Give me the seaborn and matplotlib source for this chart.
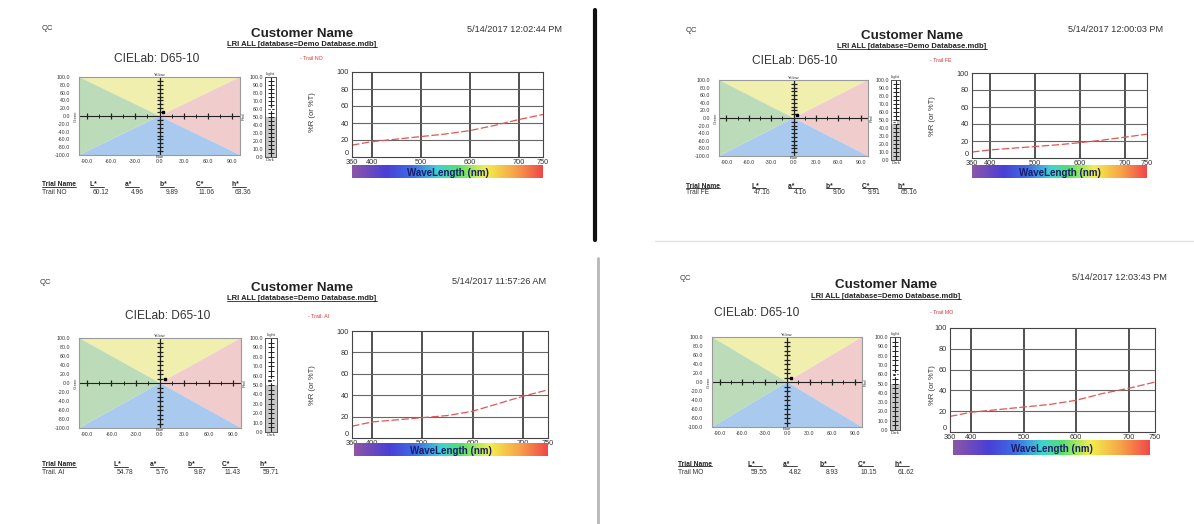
import matplotlib
matplotlib.use("Agg")
import matplotlib.pyplot as plt
import seaborn as sns
from matplotlib.colors import LinearSegmentedColormap
from matplotlib.patches import Polygon, Rectangle
from matplotlib.lines import Line2D
import numpy as np

# ---------------------------------------------------------------- data
trial_names = ["Trail NO", "Trail FE", "Trail. AI", "Trail MO"]
timestamps = ["5/14/2017 12:02:44 PM", "5/14/2017 12:00:03 PM",
              "5/14/2017 11:57:26 AM", "5/14/2017 12:03:43 PM"]
L_vals = [60.12, 47.16, 54.78, 59.55]
a_vals = [4.96, 4.16, 5.76, 4.82]
b_vals = [9.89, 9.00, 9.87, 8.93]
C_vals = [11.06, 9.91, 11.43, 10.15]
h_vals = [63.36, 65.16, 59.71, 61.62]

wavelengths = [360, 400, 450, 500, 550, 600, 650, 700, 750]
refl_no = [14, 18, 21, 24, 27, 31, 37, 44, 50]
refl_fe = [7, 9.5, 11.5, 13.5, 15.5, 18, 21, 24.5, 28]
refl_ai = [11, 15, 17, 19, 21, 25, 32, 39, 45]
refl_mo = [15, 19, 21.5, 24, 26.5, 30.5, 37, 42, 48]
reflectance = [refl_no, refl_fe, refl_ai, refl_mo]

ab_ticks = [-90, -60, -30, 0, 30, 60, 90]
b_ticks = [100, 80, 60, 40, 20, 0, -20, -40, -60, -80, -100]
L_ticks = [0, 10, 20, 30, 40, 50, 60, 70, 80, 90, 100]
wl_ticks = [360, 400, 500, 600, 700, 750]
refl_ticks = [0, 20, 40, 60, 80, 100]
table_headers = ["L*", "a*", "b*", "C*", "h*"]

report_title = "Customer Name"
report_sub = "LRI ALL [database=Demo Database.mdb]"
lab_title = "CIELab: D65-10"

# ---------------------------------------------------------------- page layout (pixels)
W, H = 1194, 524
layouts = [
    dict(qc=(42, 28), title=(302, 34), sub=(302, 45), date=(562, 29),
         cie=(157, 59), legend=(300, 59), lab=(79, 77, 240, 155),
         bar=(265, 77, 276, 157), spec=(352, 72, 543, 157), ylab=(313, 112),
         rainbow=(352, 165, 543, 178), table_y=(185, 193),
         cols=(42, 90, 125, 160, 196, 232)),
    dict(qc=(686, 30), title=(912, 36), sub=(912, 47), date=(1163, 30),
         cie=(795, 61), legend=(930, 61), lab=(719, 80, 868, 156),
         bar=(891, 80, 900, 160), spec=(972, 73, 1147, 158), ylab=(932, 116),
         rainbow=(972, 165, 1147, 178), table_y=(186, 193),
         cols=(686, 752, 788, 826, 862, 898)),
    dict(qc=(40, 282), title=(302, 288), sub=(302, 299), date=(546, 282),
         cie=(168, 316), legend=(308, 316), lab=(79, 338, 241, 428),
         bar=(265, 338, 277, 432), spec=(352, 331, 548, 438), ylab=(313, 385),
         rainbow=(354, 443, 548, 456), table_y=(465, 473),
         cols=(42, 114, 150, 188, 222, 260)),
    dict(qc=(680, 278), title=(886, 285), sub=(886, 297), date=(1167, 277),
         cie=(757, 313), legend=(930, 313), lab=(712, 337, 862, 427),
         bar=(890, 337, 900, 430), spec=(950, 328, 1155, 432), ylab=(933, 385),
         rainbow=(953, 440, 1150, 455), table_y=(464, 472),
         cols=(678, 748, 783, 820, 858, 895)),
]

sns.set_theme(style="white")
plt.rcParams["font.family"] = ["Liberation Sans", "DejaVu Sans"]

fig = plt.figure(figsize=(W / 100, H / 100), dpi=100)
fig.patch.set_facecolor("white")


def fax(box):
    x0, y0, x1, y1 = box
    return fig.add_axes([x0 / W, 1 - y1 / H, (x1 - x0) / W, (y1 - y0) / H])


def ftext(x, y, s, **kw):
    return fig.text(x / W, 1 - y / H, s, **kw)


underlined = []

rainbow_cmap = LinearSegmentedColormap.from_list(
    "spectrum",
    [(0.0, "#8e56a6"), (0.18, "#4a3fd6"), (0.32, "#3f6fe6"),
     (0.45, "#3fd3d0"), (0.55, "#52e070"), (0.70, "#f2f04a"),
     (0.85, "#f7a548"), (1.0, "#f04848")])

for i, lay in enumerate(layouts):
    ink = "#333333"
    # header
    ftext(*lay["qc"], "QC", fontsize=5.5, color=ink, va="center")
    ftext(*lay["title"], report_title, fontsize=9.6, fontweight="bold",
          color="#222222", ha="center", va="center")
    t = ftext(*lay["sub"], report_sub, fontsize=5.5, fontweight="bold",
              color="#222222", ha="center", va="center")
    underlined.append(t)
    ftext(*lay["date"], timestamps[i], fontsize=6.6, color=ink,
          ha="right", va="center")
    ftext(*lay["cie"], lab_title, fontsize=8.6, color=ink,
          ha="center", va="center")
    ftext(*lay["legend"], "- " + trial_names[i], fontsize=3.8,
          color="#e03030", va="center")

    # a*b* chart
    ax = fax(lay["lab"])
    ax.set_xlim(-100, 100)
    ax.set_ylim(-100, 100)
    quads = [([(-100, 100), (100, 100), (0, 0)], "#f1efae"),
             ([(100, 100), (100, -100), (0, 0)], "#f0cccd"),
             ([(100, -100), (-100, -100), (0, 0)], "#a9caee"),
             ([(-100, -100), (-100, 100), (0, 0)], "#bcdbb8")]
    for pts, col in quads:
        ax.add_patch(Polygon(pts, closed=True, facecolor=col,
                             edgecolor="none", zorder=0))
    ax.axhline(0, color="#222222", lw=0.8, zorder=2)
    ax.axvline(0, color="#222222", lw=0.9, zorder=2)
    major = [v for v in ab_ticks if v != 0]
    ax.plot(major, [0] * len(major), ls="none", marker="|", ms=5,
            mew=0.9, color="#222222", zorder=3)
    minor = [v - 15 for v in ab_ticks if v > 0] + [v + 15 for v in ab_ticks if v < 0]
    ax.plot(minor, [0] * len(minor), ls="none", marker="|", ms=2.2,
            mew=0.7, color="#222222", zorder=3)
    vt = [v for v in range(-90, 100, 10) if v != 0]
    ax.plot([0] * len(vt), vt, ls="none", marker="_", ms=4, mew=0.9,
            color="#222222", zorder=3)
    ax.plot([a_vals[i]], [b_vals[i]], ls="none", marker="s", ms=2.0,
            color="black", zorder=4)
    ax.set_xticks(ab_ticks)
    ax.set_xticklabels([f"{v:.1f}" for v in ab_ticks])
    ax.set_yticks(b_ticks)
    ax.set_yticklabels([f"{v:.1f}" for v in b_ticks])
    ax.tick_params(labelsize=3.8, length=0, colors="#333333")
    ax.tick_params(axis="y", pad=6.5)
    ax.tick_params(axis="x", pad=3)
    for sp in ax.spines.values():
        sp.set_color("#9a9a9a")
        sp.set_linewidth(0.8)
    ax.text(0, 101, "Yellow", fontsize=3, ha="center", va="bottom", color=ink)
    ax.text(0, -101, "Blue", fontsize=3, ha="center", va="top", color=ink)
    ax.text(-102, 0, "Green", fontsize=3, ha="right", va="center",
            rotation=90, color=ink)
    ax.text(102, 0, "Red", fontsize=3, ha="left", va="center",
            rotation=90, color=ink)

    # lightness bar
    bx = fax(lay["bar"])
    bx.set_xlim(0, 1)
    bx.set_ylim(0, 100)
    bx.add_patch(Rectangle((0, 0), 1, 50, facecolor="#c8c8c8",
                           edgecolor="none", zorder=0))
    bx.axvline(0.5, color="#222222", lw=0.8)
    lt = list(range(5, 100, 5))
    bx.plot([0.5] * len(lt), lt, ls="none", marker="_", ms=4, mew=0.7,
            color="#222222")
    bx.add_patch(Rectangle((0.15, L_vals[i] - 1.5), 0.4, 3,
                           facecolor="black", zorder=4))
    bx.set_xticks([])
    bx.set_yticks(L_ticks)
    bx.set_yticklabels([f"{v:.1f}" for v in L_ticks])
    bx.tick_params(labelsize=3.8, length=0, pad=1.5, colors="#333333")
    for sp in bx.spines.values():
        sp.set_color("#555555")
        sp.set_linewidth(0.7)
    bx.text(0.5, 101, "Light", fontsize=3, ha="center", va="bottom", color=ink)
    bx.text(0.5, -1, "Dark", fontsize=3, ha="center", va="top", color=ink)

    # spectral reflectance curve
    sx = fax(lay["spec"])
    sns.lineplot(x=wavelengths, y=reflectance[i], ax=sx, color="#e25555",
                 lw=0.9, linestyle=(0, (6, 2)))
    sx.set_xlim(360, 750)
    sx.set_ylim(0, 100)
    sx.set_xticks(wl_ticks)
    sx.set_yticks(refl_ticks)
    sx.tick_params(labelsize=5.3, length=0, colors="#333333")
    sx.tick_params(axis="x", pad=1.5)
    sx.tick_params(axis="y", pad=2)
    # lift the lowest y label so it clears the first wavelength label
    sx.get_yticklabels()[0].set_verticalalignment("bottom")
    for v in wl_ticks[1:-1]:
        sx.axvline(v, color="#222222", lw=1.1, zorder=1)
    for v in refl_ticks[1:-1]:
        sx.axhline(v, color="#666666", lw=0.8, zorder=1)
    for sp in sx.spines.values():
        sp.set_color("#444444")
        sp.set_linewidth(0.8)
    sx.set_xlabel("")
    sx.set_ylabel("")
    ftext(*lay["ylab"], "%R (or %T)", fontsize=5.5, color=ink,
          rotation=90, ha="center", va="center")

    # wavelength colour strip
    rx = fax(lay["rainbow"])
    rx.imshow(np.linspace(0, 1, 256)[None, :], aspect="auto",
              cmap=rainbow_cmap, extent=(0, 1, 0, 1))
    rx.set_axis_off()
    rx.text(0.5, 0.42, "WaveLength (nm)", fontsize=7, fontweight="bold",
            color="#1c1c6a", ha="center", va="center")

    # colour values table
    cols = lay["cols"]
    yh, yv = lay["table_y"]
    underlined.append(ftext(cols[0], yh, "Trial Name", fontsize=4.8,
                            fontweight="bold", color="#222222", va="center"))
    ftext(cols[0], yv, trial_names[i], fontsize=4.8, color=ink, va="center")
    vals = [L_vals[i], a_vals[i], b_vals[i], C_vals[i], h_vals[i]]
    for cx, hd, v in zip(cols[1:], table_headers, vals):
        underlined.append(ftext(cx, yh, hd + "    ", fontsize=4.8,
                                fontweight="bold", color="#222222",
                                va="center"))
        ftext(cx + 19, yv, f"{v:.2f}", fontsize=4.8, color=ink,
              ha="right", va="center")

# underline selected texts just below their baseline
fig.canvas.draw()
renderer = fig.canvas.get_renderer()
for t in underlined:
    bb = t.get_window_extent(renderer)
    y = bb.y0 + 0.18 * bb.height
    fig.add_artist(Line2D([bb.x0 / W, bb.x1 / W], [y / H, y / H],
                          color="#222222", lw=0.6))

# page separators
fig.add_artist(Line2D([595 / W, 595 / W], [1 - 10 / H, 1 - 240 / H],
                      color="#111111", lw=3))
fig.add_artist(Line2D([655 / W, 1.0], [1 - 241 / H, 1 - 241 / H],
                      color="#e2e2e2", lw=1))
fig.add_artist(Line2D([598 / W, 598 / W], [1 - 258 / H, 0],
                      color="#b8b8b8", lw=2))

fig.savefig("out.png", dpi=100, facecolor="white")
